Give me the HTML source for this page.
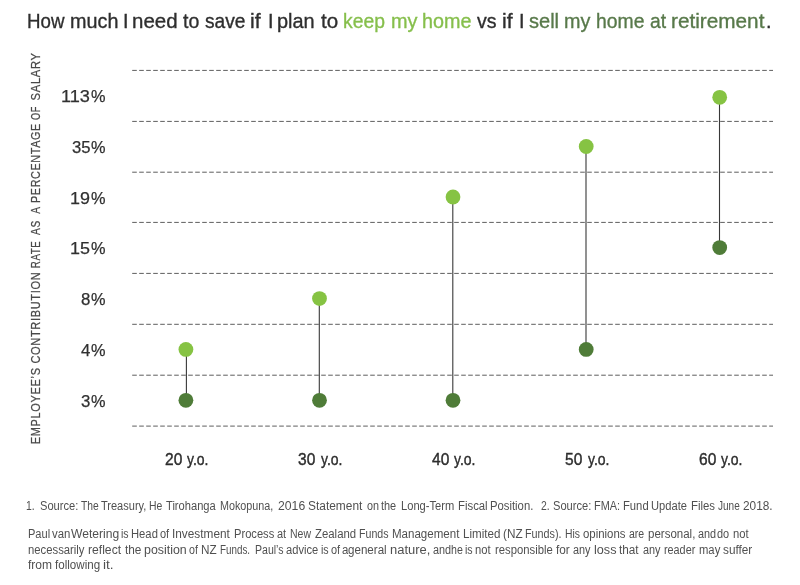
<!DOCTYPE html>
<html><head><meta charset="utf-8"><title>chart</title>
<style>
html,body{margin:0;padding:0;background:#fff;}
body{width:800px;height:585px;position:relative;overflow:hidden;font-family:"Liberation Sans",sans-serif;color:#333;}
#L{position:absolute;left:0;top:0;width:800px;height:585px;will-change:transform;}
svg{position:absolute;left:0;top:0;}
.w{position:absolute;white-space:nowrap;transform-origin:0 0;}
.ti{font-size:21px;line-height:25px;-webkit-text-stroke:0.35px;}
.fn{font-size:12px;line-height:14px;color:#505050;}
.yl{font-size:17px;line-height:20px;color:#303030;-webkit-text-stroke:0.25px;}
.xl{font-size:16.5px;line-height:20px;color:#2d2d2d;-webkit-text-stroke:0.4px;}
.ya{font-size:13px;line-height:15px;color:#484848;letter-spacing:0.8px;-webkit-text-stroke:0.25px;}
</style></head><body>
<div id="L">
<svg width="800" height="585" viewBox="0 0 800 585">
<g stroke="#5e5e5e" stroke-width="1" stroke-dasharray="4.6 2.4" fill="none">
<line x1="132.2" x2="773" y1="70.4" y2="70.4"/>
<line x1="132.2" x2="773" y1="121.4" y2="121.4"/>
<line x1="132.2" x2="773" y1="172.2" y2="172.2"/>
<line x1="132.2" x2="773" y1="222.4" y2="222.4"/>
<line x1="132.2" x2="773" y1="273.4" y2="273.4"/>
<line x1="132.2" x2="773" y1="324.3" y2="324.3"/>
<line x1="132.2" x2="773" y1="375.2" y2="375.2"/>
<line x1="132.2" x2="773" y1="426.1" y2="426.1"/>
</g><g stroke="#383838" stroke-width="1.1">
<line x1="186.4" x2="186.4" y1="349.4" y2="400.3"/>
<line x1="319.3" x2="319.3" y1="298.6" y2="400.3"/>
<line x1="452.8" x2="452.8" y1="197.0" y2="400.3"/>
<line x1="586.0" x2="586.0" y1="146.5" y2="349.4"/>
<line x1="719.5" x2="719.5" y1="97.3" y2="247.6"/>
</g><g fill="#86c343">
<circle cx="185.9" cy="349.4" r="7.4"/>
<circle cx="319.5" cy="298.6" r="7.4"/>
<circle cx="453.0" cy="197.0" r="7.4"/>
<circle cx="586.2" cy="146.5" r="7.4"/>
<circle cx="719.7" cy="97.3" r="7.4"/>
</g><g fill="#4f7c38">
<circle cx="185.9" cy="400.3" r="7.4"/>
<circle cx="319.5" cy="400.3" r="7.4"/>
<circle cx="453.0" cy="400.3" r="7.4"/>
<circle cx="586.2" cy="349.4" r="7.4"/>
<circle cx="719.7" cy="247.6" r="7.4"/>
</g></svg>
<span class="w ti" style="left:27.41px;top:7.80px;transform:scaleX(0.8914);color:#2e2e2e;">How</span>
<span class="w ti" style="left:70.16px;top:7.80px;transform:scaleX(0.9422);color:#2e2e2e;">much</span>
<span class="w ti" style="left:122.84px;top:7.80px;transform:scaleX(0.9446);color:#2e2e2e;">I</span>
<span class="w ti" style="left:131.82px;top:7.80px;transform:scaleX(0.9770);color:#2e2e2e;">need</span>
<span class="w ti" style="left:183.07px;top:7.80px;transform:scaleX(0.9297);color:#2e2e2e;">to</span>
<span class="w ti" style="left:205.20px;top:7.80px;transform:scaleX(0.9135);color:#2e2e2e;">save</span>
<span class="w ti" style="left:250.40px;top:7.80px;transform:scaleX(1.0107);color:#2e2e2e;">if</span>
<span class="w ti" style="left:267.74px;top:7.80px;transform:scaleX(0.9446);color:#2e2e2e;">I</span>
<span class="w ti" style="left:277.45px;top:7.80px;transform:scaleX(0.9494);color:#2e2e2e;">plan</span>
<span class="w ti" style="left:321.00px;top:7.80px;transform:scaleX(0.9802);color:#2e2e2e;">to</span>
<span class="w ti" style="left:343.48px;top:7.80px;transform:scaleX(0.9211);color:#86bf4c;">keep</span>
<span class="w ti" style="left:390.99px;top:7.80px;transform:scaleX(0.9470);color:#86bf4c;">my</span>
<span class="w ti" style="left:421.86px;top:7.80px;transform:scaleX(0.9420);color:#86bf4c;">home</span>
<span class="w ti" style="left:476.76px;top:7.80px;transform:scaleX(0.9308);color:#2e2e2e;">vs</span>
<span class="w ti" style="left:501.65px;top:7.80px;transform:scaleX(1.0107);color:#2e2e2e;">if</span>
<span class="w ti" style="left:518.94px;top:7.80px;transform:scaleX(0.9446);color:#2e2e2e;">I</span>
<span class="w ti" style="left:529.20px;top:7.80px;transform:scaleX(0.9532);color:#58794a;">sell</span>
<span class="w ti" style="left:564.12px;top:7.80px;transform:scaleX(0.9415);color:#58794a;">my</span>
<span class="w ti" style="left:595.78px;top:7.80px;transform:scaleX(0.9223);color:#58794a;">home</span>
<span class="w ti" style="left:649.68px;top:7.80px;transform:scaleX(0.9191);color:#58794a;">at</span>
<span class="w ti" style="left:671.31px;top:7.80px;transform:scaleX(0.9883);color:#58794a;">retirement</span>
<span class="w ti" style="left:766.29px;top:7.80px;transform:scaleX(0.9446);color:#2e2e2e;">.</span>
<span class="w fn" style="left:26.43px;top:498.60px;transform:scaleX(0.8664);">1.</span>
<span class="w fn" style="left:39.50px;top:498.60px;transform:scaleX(0.9263);">Source:</span>
<span class="w fn" style="left:80.75px;top:498.60px;transform:scaleX(0.8570);">The</span>
<span class="w fn" style="left:101.25px;top:498.60px;transform:scaleX(0.9182);">Treasury,</span>
<span class="w fn" style="left:149.46px;top:498.60px;transform:scaleX(0.8664);">He</span>
<span class="w fn" style="left:165.50px;top:498.60px;transform:scaleX(0.9274);">Tirohanga</span>
<span class="w fn" style="left:219.50px;top:498.60px;transform:scaleX(0.8977);">Mokopuna,</span>
<span class="w fn" style="left:277.50px;top:498.60px;transform:scaleX(1.0177);">2016</span>
<span class="w fn" style="left:308.25px;top:498.60px;transform:scaleX(0.9934);">Statement</span>
<span class="w fn" style="left:366.80px;top:498.60px;transform:scaleX(0.8998);">on</span>
<span class="w fn" style="left:380.75px;top:498.60px;transform:scaleX(0.9113);">the</span>
<span class="w fn" style="left:401.25px;top:498.60px;transform:scaleX(0.9283);">Long-Term</span>
<span class="w fn" style="left:458.00px;top:498.60px;transform:scaleX(0.9456);">Fiscal</span>
<span class="w fn" style="left:489.50px;top:498.60px;transform:scaleX(0.9411);">Position.</span>
<span class="w fn" style="left:541.43px;top:498.60px;transform:scaleX(0.8664);">2.</span>
<span class="w fn" style="left:553.00px;top:498.60px;transform:scaleX(0.9263);">Source:</span>
<span class="w fn" style="left:593.75px;top:498.60px;transform:scaleX(0.9089);">FMA:</span>
<span class="w fn" style="left:623.00px;top:498.60px;transform:scaleX(0.9371);">Fund</span>
<span class="w fn" style="left:650.75px;top:498.60px;transform:scaleX(0.9290);">Update</span>
<span class="w fn" style="left:690.50px;top:498.60px;transform:scaleX(0.9473);">Files</span>
<span class="w fn" style="left:717.50px;top:498.60px;transform:scaleX(0.8350);">June</span>
<span class="w fn" style="left:743.25px;top:498.60px;transform:scaleX(0.9850);">2018.</span>
<span class="w fn" style="left:28.00px;top:527.30px;transform:scaleX(0.9207);">Paul</span>
<span class="w fn" style="left:51.75px;top:527.30px;transform:scaleX(0.9505);">van</span>
<span class="w fn" style="left:71.25px;top:527.30px;transform:scaleX(1.0079);">Wetering</span>
<span class="w fn" style="left:120.83px;top:527.30px;transform:scaleX(0.8767);">is</span>
<span class="w fn" style="left:130.75px;top:527.30px;transform:scaleX(0.9370);">Head</span>
<span class="w fn" style="left:159.86px;top:527.30px;transform:scaleX(0.9164);">of</span>
<span class="w fn" style="left:172.01px;top:527.30px;transform:scaleX(0.9853);">Investment</span>
<span class="w fn" style="left:234.25px;top:527.30px;transform:scaleX(0.9285);">Process</span>
<span class="w fn" style="left:277.36px;top:527.30px;transform:scaleX(0.9164);">at</span>
<span class="w fn" style="left:290.00px;top:527.30px;transform:scaleX(0.8731);">New</span>
<span class="w fn" style="left:315.00px;top:527.30px;transform:scaleX(0.9487);">Zealand</span>
<span class="w fn" style="left:359.25px;top:527.30px;transform:scaleX(0.8845);">Funds</span>
<span class="w fn" style="left:392.00px;top:527.30px;transform:scaleX(0.9617);">Management</span>
<span class="w fn" style="left:463.25px;top:527.30px;transform:scaleX(0.9669);">Limited</span>
<span class="w fn" style="left:502.50px;top:527.30px;transform:scaleX(0.9790);">(NZ</span>
<span class="w fn" style="left:525.00px;top:527.30px;transform:scaleX(0.8984);">Funds).</span>
<span class="w fn" style="left:564.50px;top:527.30px;transform:scaleX(0.8654);">His</span>
<span class="w fn" style="left:583.00px;top:527.30px;transform:scaleX(0.9508);">opinions</span>
<span class="w fn" style="left:628.75px;top:527.30px;transform:scaleX(0.8772);">are</span>
<span class="w fn" style="left:647.50px;top:527.30px;transform:scaleX(0.9586);">personal,</span>
<span class="w fn" style="left:697.50px;top:527.30px;transform:scaleX(0.9045);">and</span>
<span class="w fn" style="left:717.28px;top:527.30px;transform:scaleX(0.9102);">do</span>
<span class="w fn" style="left:732.50px;top:527.30px;transform:scaleX(0.9367);">not</span>
<span class="w fn" style="left:28.00px;top:542.80px;transform:scaleX(0.9413);">necessarily</span>
<span class="w fn" style="left:87.50px;top:542.80px;transform:scaleX(1.0122);">reflect</span>
<span class="w fn" style="left:124.50px;top:542.80px;transform:scaleX(0.9848);">the</span>
<span class="w fn" style="left:144.25px;top:542.80px;transform:scaleX(1.0323);">position</span>
<span class="w fn" style="left:188.90px;top:542.80px;transform:scaleX(0.8861);">of</span>
<span class="w fn" style="left:200.71px;top:542.80px;transform:scaleX(0.9789);">NZ</span>
<span class="w fn" style="left:220.36px;top:542.80px;transform:scaleX(0.8191);">Funds.</span>
<span class="w fn" style="left:254.50px;top:542.80px;transform:scaleX(0.8778);">Paul’s</span>
<span class="w fn" style="left:285.75px;top:542.80px;transform:scaleX(0.9282);">advice</span>
<span class="w fn" style="left:320.79px;top:542.80px;transform:scaleX(0.8858);">is</span>
<span class="w fn" style="left:330.52px;top:542.80px;transform:scaleX(0.9095);">of</span>
<span class="w fn" style="left:341.67px;top:542.80px;transform:scaleX(0.9525);">a</span>
<span class="w fn" style="left:348.25px;top:542.80px;transform:scaleX(0.9653);">general</span>
<span class="w fn" style="left:389.50px;top:542.80px;transform:scaleX(1.0803);">nature,</span>
<span class="w fn" style="left:432.50px;top:542.80px;transform:scaleX(0.9045);">and</span>
<span class="w fn" style="left:451.07px;top:542.80px;transform:scaleX(0.8858);">he</span>
<span class="w fn" style="left:464.91px;top:542.80px;transform:scaleX(0.8858);">is</span>
<span class="w fn" style="left:475.00px;top:542.80px;transform:scaleX(0.9367);">not</span>
<span class="w fn" style="left:494.50px;top:542.80px;transform:scaleX(0.9401);">responsible</span>
<span class="w fn" style="left:556.25px;top:542.80px;transform:scaleX(0.9816);">for</span>
<span class="w fn" style="left:573.00px;top:542.80px;transform:scaleX(0.9045);">any</span>
<span class="w fn" style="left:593.75px;top:542.80px;transform:scaleX(1.0544);">loss</span>
<span class="w fn" style="left:619.25px;top:542.80px;transform:scaleX(0.9791);">that</span>
<span class="w fn" style="left:643.00px;top:542.80px;transform:scaleX(0.9045);">any</span>
<span class="w fn" style="left:663.75px;top:542.80px;transform:scaleX(0.9008);">reader</span>
<span class="w fn" style="left:698.75px;top:542.80px;transform:scaleX(0.9374);">may</span>
<span class="w fn" style="left:723.25px;top:542.80px;transform:scaleX(0.9816);">suffer</span>
<span class="w fn" style="left:28.00px;top:558.00px;transform:scaleX(0.9998);">from</span>
<span class="w fn" style="left:55.00px;top:558.00px;transform:scaleX(0.9670);">following</span>
<span class="w fn" style="left:102.62px;top:558.00px;transform:scaleX(1.1397);">it.</span>
<span class="w yl" style="left:61.23px;top:87.00px;transform:scaleX(1.0683);">113</span>
<span class="w yl" style="left:91.00px;top:87.00px;transform:scaleX(0.9600);">%</span>
<span class="w yl" style="left:71.60px;top:137.75px;transform:scaleX(0.9808);">35</span>
<span class="w yl" style="left:91.00px;top:137.75px;transform:scaleX(0.9600);">%</span>
<span class="w yl" style="left:70.25px;top:188.50px;transform:scaleX(1.0542);">19</span>
<span class="w yl" style="left:91.00px;top:188.50px;transform:scaleX(0.9600);">%</span>
<span class="w yl" style="left:70.25px;top:239.25px;transform:scaleX(1.0542);">15</span>
<span class="w yl" style="left:91.00px;top:239.25px;transform:scaleX(0.9600);">%</span>
<span class="w yl" style="left:80.80px;top:290.00px;transform:scaleX(0.9889);">8</span>
<span class="w yl" style="left:91.00px;top:290.00px;transform:scaleX(0.9600);">%</span>
<span class="w yl" style="left:80.80px;top:340.75px;transform:scaleX(0.9889);">4</span>
<span class="w yl" style="left:91.00px;top:340.75px;transform:scaleX(0.9600);">%</span>
<span class="w yl" style="left:80.80px;top:391.50px;transform:scaleX(0.9889);">3</span>
<span class="w yl" style="left:91.00px;top:391.50px;transform:scaleX(0.9600);">%</span>
<span class="w xl" style="left:164.90px;top:449.00px;transform:scaleX(0.9408);">20</span>
<span class="w xl" style="left:187.40px;top:449.00px;transform:scaleX(0.8472);">y.o.</span>
<span class="w xl" style="left:298.30px;top:449.00px;transform:scaleX(0.9408);">30</span>
<span class="w xl" style="left:320.80px;top:449.00px;transform:scaleX(0.8472);">y.o.</span>
<span class="w xl" style="left:431.70px;top:449.00px;transform:scaleX(0.9408);">40</span>
<span class="w xl" style="left:454.20px;top:449.00px;transform:scaleX(0.8472);">y.o.</span>
<span class="w xl" style="left:565.10px;top:449.00px;transform:scaleX(0.9408);">50</span>
<span class="w xl" style="left:587.60px;top:449.00px;transform:scaleX(0.8472);">y.o.</span>
<span class="w xl" style="left:698.50px;top:449.00px;transform:scaleX(0.9408);">60</span>
<span class="w xl" style="left:721.00px;top:449.00px;transform:scaleX(0.8472);">y.o.</span>
<span class="w ya" style="left:0;top:0;transform:translate(27.60px,444.35px) rotate(-90deg) scaleX(0.8459);">EMPLOYEE’S</span>
<span class="w ya" style="left:0;top:0;transform:translate(27.60px,363.60px) rotate(-90deg) scaleX(0.8467);">CONTRIBUTION</span>
<span class="w ya" style="left:0;top:0;transform:translate(27.60px,268.14px) rotate(-90deg) scaleX(0.7422);">RATE</span>
<span class="w ya" style="left:0;top:0;transform:translate(27.60px,234.90px) rotate(-90deg) scaleX(0.7796);">AS</span>
<span class="w ya" style="left:0;top:0;transform:translate(27.60px,213.80px) rotate(-90deg) scaleX(0.7889);">A</span>
<span class="w ya" style="left:0;top:0;transform:translate(27.60px,203.03px) rotate(-90deg) scaleX(0.8272);">PERCENTAGE</span>
<span class="w ya" style="left:0;top:0;transform:translate(27.60px,119.90px) rotate(-90deg) scaleX(0.7086);">OF</span>
<span class="w ya" style="left:0;top:0;transform:translate(27.60px,100.40px) rotate(-90deg) scaleX(0.8611);">SALARY</span>
</div>
</body></html>
